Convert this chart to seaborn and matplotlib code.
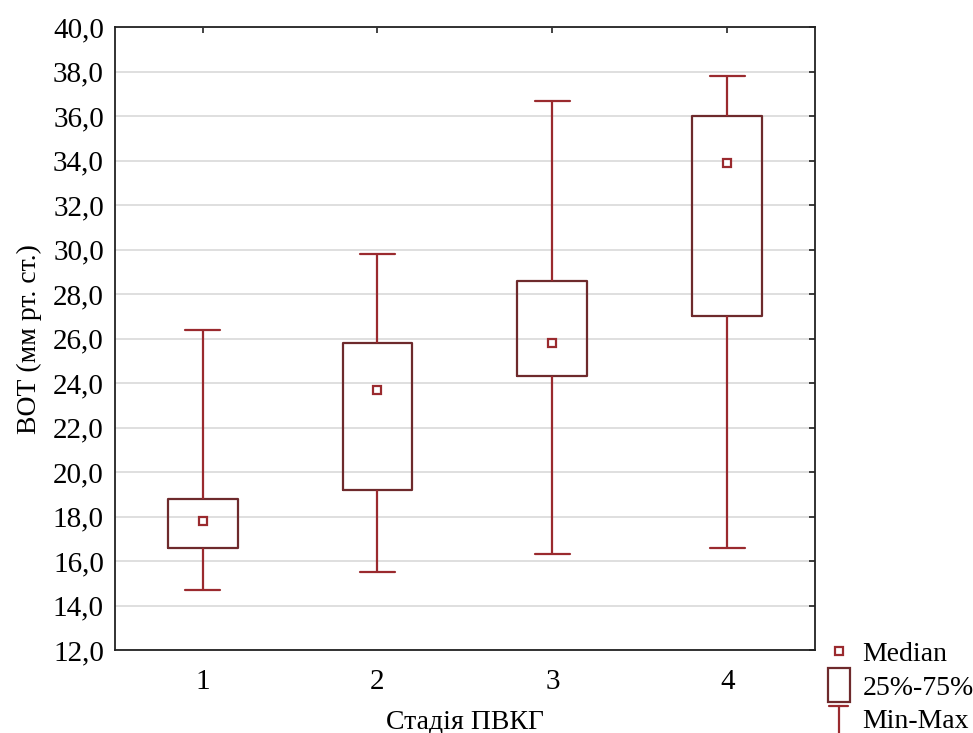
import pandas as pd
import matplotlib
matplotlib.use("Agg")
import matplotlib.pyplot as plt
import seaborn as sns
from matplotlib.lines import Line2D
from matplotlib.patches import Rectangle
from matplotlib.legend_handler import HandlerBase
from matplotlib.ticker import FuncFormatter, MultipleLocator

# five-number summaries per stage (min, q1, median, q3, max)
stages = ["1", "2", "3", "4"]
mins = [14.7, 15.5, 16.3, 16.6]
q1s = [16.6, 19.2, 24.3, 27.0]
medians = [17.8, 23.7, 25.8, 33.9]
q3s = [18.8, 25.8, 28.6, 36.0]
maxs = [26.4, 29.8, 36.7, 37.8]

rows = []
for s, a, b, c, d, e in zip(stages, mins, q1s, medians, q3s, maxs):
    for v in (a, b, c, d, e):
        rows.append({"stage": s, "value": v})
df = pd.DataFrame(rows)

whisker_col = "#9a2a2e"
box_col = "#6e2a2c"

sns.set_style("white")
plt.rcParams["font.family"] = ["Liberation Serif", "DejaVu Serif"]
plt.rcParams["text.color"] = "black"
plt.rcParams["axes.labelcolor"] = "black"
plt.rcParams["xtick.color"] = "black"
plt.rcParams["ytick.color"] = "black"

fig = plt.figure(figsize=(9.73, 7.33), dpi=100)
ax = fig.add_axes([0.1182, 0.1132, 0.7194, 0.8496])

sns.boxplot(data=df, x="stage", y="value", order=stages, whis=(0, 100),
            width=0.4, fill=False, ax=ax, zorder=3,
            boxprops=dict(color=box_col, linewidth=1.6),
            whiskerprops=dict(color=whisker_col, linewidth=1.6),
            capprops=dict(color=whisker_col, linewidth=1.6),
            medianprops=dict(visible=False))
sns.pointplot(data=df, x="stage", y="value", order=stages, estimator="median",
              errorbar=None, linestyle="none", marker="s", markersize=6,
              markerfacecolor="white", markeredgecolor=whisker_col,
              markeredgewidth=1.6, color=whisker_col, ax=ax, zorder=4)

ax.set_ylim(12, 40)
ax.set_xlim(-0.5, 3.5)
ax.yaxis.set_major_locator(MultipleLocator(2))
ax.yaxis.set_major_formatter(FuncFormatter(lambda v, p: f"{v:.1f}".replace(".", ",")))
ax.grid(axis="y", color="#dcdcdc", linewidth=1.3, zorder=0)
ax.set_axisbelow(True)
for sp in ax.spines.values():
    sp.set_visible(True)
    sp.set_color("#222222")
    sp.set_linewidth(1.3)
ax.tick_params(direction="in", top=True, right=True, length=4, width=1.2,
               color="#222222", labelsize=21, pad=6)
ax.tick_params(axis="y", left=False, pad=8)
ax.tick_params(axis="x", pad=14)
ax.set_xlabel("Стадія ПВКГ", fontsize=20, labelpad=10)
ax.set_ylabel("ВОТ (мм рт. ст.)", fontsize=20, labelpad=8)


class HandlerT(HandlerBase):
    def create_artists(self, legend, orig, xd, yd, w, h, fontsize, trans):
        cx = xd + w / 2
        top = Line2D([cx - 7, cx + 7], [yd + h + 2, yd + h + 2], color=whisker_col, lw=1.6)
        stem = Line2D([cx, cx], [yd - 8, yd + h + 2], color=whisker_col, lw=1.6)
        top.set_transform(trans)
        stem.set_transform(trans)
        return [top, stem]


class HandlerBox(HandlerBase):
    def create_artists(self, legend, orig, xd, yd, w, h, fontsize, trans):
        cx = xd + w / 2
        r = Rectangle((cx - 8, yd - 5), 16, h + 10, fill=False,
                      edgecolor=box_col, lw=1.6, transform=trans)
        return [r]


med_h = Line2D([], [], linestyle="none", marker="s", markersize=6,
               markerfacecolor="white", markeredgecolor=whisker_col, markeredgewidth=1.6)
box_h = Rectangle((0, 0), 1, 1)
mm_h = Line2D([], [])
fig.legend([med_h, box_h, mm_h], ["Median", "25%-75%", "Min-Max"],
           handler_map={box_h: HandlerBox(), mm_h: HandlerT()},
           loc="lower left", bbox_to_anchor=(0.822, -0.036), frameon=False,
           fontsize=20, handlelength=1.0, handletextpad=0.35, labelspacing=0.3)

fig.savefig("out.png", dpi=100)
